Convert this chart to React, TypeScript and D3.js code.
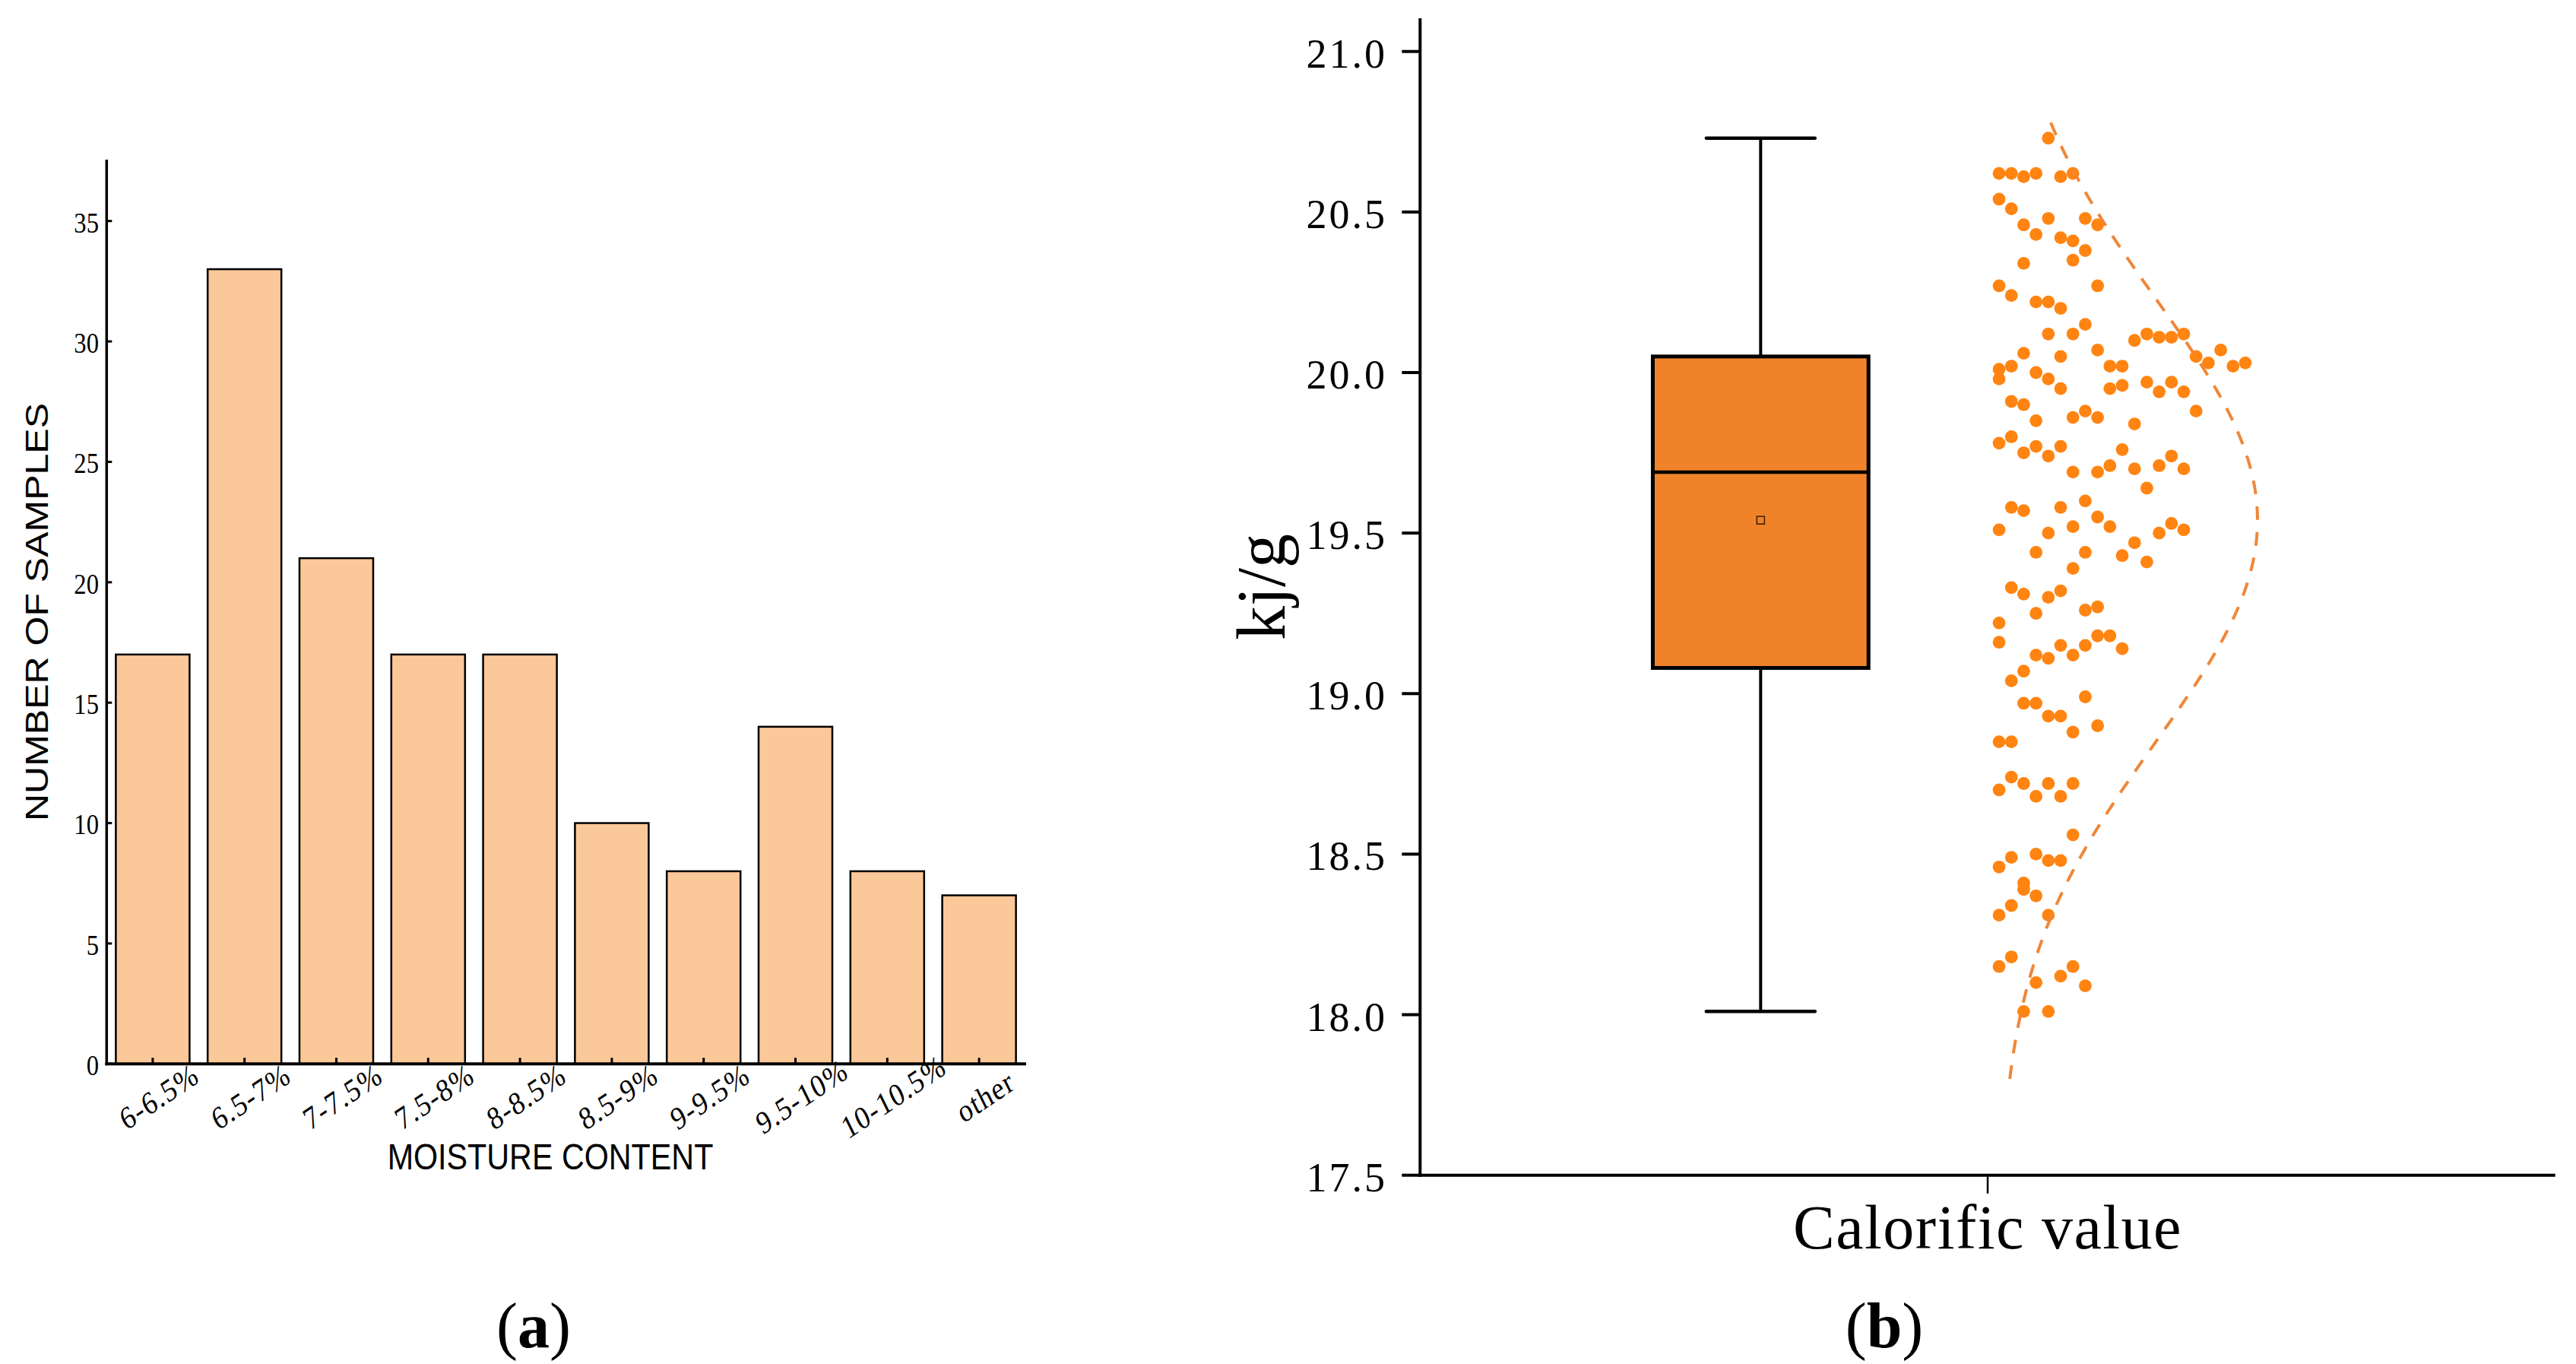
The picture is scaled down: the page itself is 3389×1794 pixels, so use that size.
import * as d3 from "d3";

// (a) moisture content histogram
const categories = ["6-6.5%", "6.5-7%", "7-7.5%", "7.5-8%", "8-8.5%", "8.5-9%", "9-9.5%", "9.5-10%", "10-10.5%", "other"];
const sampleCounts = [17, 33, 21, 17, 17, 10, 8, 14, 8, 7];
const countTicks = [0, 5, 10, 15, 20, 25, 30, 35];

// (b) calorific value: box summary [min, q1, median, q3, max], mean, normal curve
const calorificTicks = [17.5, 18, 18.5, 19, 19.5, 20, 20.5, 21];
const boxSummary = [18.01, 19.08, 19.69, 20.05, 20.73];
const meanValue = 19.54;
const curveRange = [17.8, 20.8];
const curveSd = 0.69;

// sample values, one list per dot column (left to right)
const dotColumns: number[][] = [
  [20.62, 20.54, 20.27, 20.01, 19.98, 19.78, 19.51, 19.22, 19.16, 18.85, 18.7, 18.46, 18.31, 18.15],
  [20.62, 20.51, 20.24, 20.02, 19.91, 19.8, 19.58, 19.33, 19.04, 18.85, 18.74, 18.49, 18.34, 18.18],
  [20.61, 20.46, 20.34, 20.06, 19.9, 19.75, 19.57, 19.31, 19.07, 18.97, 18.72, 18.41, 18.39, 18.01],
  [20.62, 20.43, 20.22, 20.0, 19.85, 19.77, 19.44, 19.25, 19.12, 18.97, 18.68, 18.5, 18.37, 18.1],
  [20.73, 20.48, 20.22, 20.12, 19.98, 19.74, 19.5, 19.3, 19.11, 18.93, 18.72, 18.48, 18.31, 18.01],
  [20.61, 20.42, 20.2, 20.05, 19.95, 19.77, 19.58, 19.32, 19.15, 18.93, 18.68, 18.48, 18.12],
  [20.62, 20.41, 20.35, 20.12, 19.86, 19.69, 19.52, 19.39, 19.12, 18.88, 18.72, 18.56, 18.15],
  [20.48, 20.38, 20.15, 19.88, 19.6, 19.44, 19.26, 19.15, 18.99, 18.09],
  [20.46, 20.27, 20.07, 19.86, 19.69, 19.55, 19.27, 19.18, 18.9],
  [20.02, 19.95, 19.71, 19.52, 19.18],
  [20.02, 19.96, 19.76, 19.43, 19.14],
  [20.1, 19.84, 19.7, 19.47],
  [20.12, 19.97, 19.64, 19.41],
  [20.11, 19.94, 19.71, 19.5],
  [20.11, 19.97, 19.74, 19.53],
  [20.12, 19.94, 19.7, 19.51],
  [20.05, 19.88],
  [20.03],
  [20.07],
  [20.02],
  [20.03],
];

const W = 3389;
const H = 1794;
const SERIF = "'Liberation Serif', 'Times New Roman', serif";
const SANS = "'Liberation Sans', Arial, sans-serif";
const SQUEEZE = 0.86; // the left panel is horizontally squeezed in the source

function MoisturePanel() {
  const x = d3
    .scaleBand()
    .domain(categories)
    .range([140.3, 1348.7])
    .paddingInner(0.197)
    .paddingOuter(0.1);
  const y = d3.scaleLinear().domain([0, 35]).range([1399.3, 290.7]);
  const x0 = 140.3;
  const y0 = y(0);

  return (
    <g>
      {/* bars */}
      {categories.map((c, i) => (
        <rect
          key={c}
          x={x(c)}
          y={y(sampleCounts[i])}
          width={x.bandwidth()}
          height={y0 - y(sampleCounts[i])}
          fill="#FBC899"
          stroke="#000"
          strokeWidth={2.5}
        />
      ))}

      {/* y axis */}
      <line x1={x0} x2={x0} y1={210} y2={y0 + 2} stroke="#000" strokeWidth={3.5} />
      {countTicks.map((t) => (
        <g key={t}>
          <line x1={x0} x2={x0 + 7} y1={y(t)} y2={y(t)} stroke="#000" strokeWidth={3} />
          <g transform={`translate(130,${y(t) + 2}) scale(${SQUEEZE},1)`}>
            <text
              textAnchor="end"
              dominantBaseline="central"
              fontFamily={SERIF}
              fontSize={38}
              fill="#000"
            >
              {t}
            </text>
          </g>
        </g>
      ))}

      {/* x axis */}
      <line x1={x0 - 2} x2={1350} y1={y0} y2={y0} stroke="#000" strokeWidth={4} />
      {categories.map((c) => {
        const cx = (x(c) ?? 0) + x.bandwidth() / 2;
        return (
          <g key={c}>
            <line x1={cx} x2={cx} y1={y0} y2={y0 - 8} stroke="#000" strokeWidth={3} />
            <g transform={`translate(${cx + 8},1442) scale(${SQUEEZE},1) rotate(-30)`}>
              <text
                textAnchor="middle"
                dominantBaseline="central"
                fontFamily={SERIF}
                fontSize={42}
                letterSpacing={1.5}
                fill="#000"
              >
                {c}
              </text>
            </g>
          </g>
        );
      })}

      {/* axis titles */}
      <g transform={`translate(724,1538) scale(${SQUEEZE},1)`}>
        <text textAnchor="middle" fontFamily={SANS} fontSize={48} fill="#000">
          MOISTURE CONTENT
        </text>
      </g>
      <g transform={`translate(63,805) scale(${SQUEEZE},1)`}>
        <text transform="rotate(-90)" textAnchor="middle" fontFamily={SANS} fontSize={50} fill="#000">
          NUMBER OF SAMPLES
        </text>
      </g>

      <text x={702} y={1772} textAnchor="middle" fontFamily={SERIF} fontSize={84} fill="#000">
        (<tspan fontWeight="bold">a</tspan>)
      </text>
    </g>
  );
}

function CalorificPanel() {
  const x = d3.scaleLinear().domain([0, 2]).range([1868.3, 3361.7]);
  const y = d3.scaleLinear().domain([17.5, 21]).range([1545.7, 67.7]);
  const x0 = x(0);
  const y0 = y(17.5);

  const [lo, q1, med, q3, hi] = boxSummary;
  const boxLeft = x(0.6 - 0.19);
  const boxRight = x(0.6 + 0.19);
  const boxMid = x(0.6);
  const capHalf = x(0.0957) - x(0);

  const dotStart = x(1) + 15;
  const dotStep = 16.2;
  const peakWidth = 340;

  const curve = d3
    .line<number>()
    .x((v) => dotStart + peakWidth * Math.exp(-0.5 * ((v - meanValue) / curveSd) ** 2))
    .y((v) => y(v));
  const curveValues = d3.range(curveRange[0], curveRange[1] + 1e-9, 0.01);

  return (
    <g>
      {/* whiskers */}
      <line x1={boxMid} x2={boxMid} y1={y(hi)} y2={y(lo)} stroke="#000" strokeWidth={4} />
      <line x1={boxMid - capHalf} x2={boxMid + capHalf} y1={y(hi)} y2={y(hi)} stroke="#000" strokeWidth={4.5} strokeLinecap="round" />
      <line x1={boxMid - capHalf} x2={boxMid + capHalf} y1={y(lo)} y2={y(lo)} stroke="#000" strokeWidth={4.5} strokeLinecap="round" />

      {/* box */}
      <rect
        x={boxLeft}
        y={y(q3)}
        width={boxRight - boxLeft}
        height={y(q1) - y(q3)}
        fill="#F0832A"
        stroke="#000"
        strokeWidth={5}
      />
      <line x1={boxLeft} x2={boxRight} y1={y(med)} y2={y(med)} stroke="#000" strokeWidth={4.5} />
      <rect
        x={boxMid - 5}
        y={y(meanValue) - 5}
        width={10}
        height={10}
        fill="#F0832A"
        stroke="#4a2000"
        strokeWidth={1.6}
      />

      {/* dots */}
      {dotColumns.map((col, ci) =>
        col.map((v, j) => (
          <circle key={`${ci}-${j}`} cx={dotStart + ci * dotStep} cy={y(v)} r={8.4} fill="#FF8411" />
        ))
      )}

      {/* normal curve */}
      <path
        d={curve(curveValues) ?? ""}
        fill="none"
        stroke="#EE873A"
        strokeWidth={4}
        strokeDasharray="18 16"
      />

      {/* axes */}
      <line x1={x0} x2={x0} y1={24} y2={y0 + 2} stroke="#000" strokeWidth={4} />
      <line x1={x0 - 2} x2={x(2)} y1={y0} y2={y0} stroke="#000" strokeWidth={4} />
      {calorificTicks.map((t) => (
        <g key={t}>
          <line x1={x0 - 24} x2={x0} y1={y(t)} y2={y(t)} stroke="#000" strokeWidth={4} />
          <text
            x={1825}
            y={y(t) + 3}
            textAnchor="end"
            dominantBaseline="central"
            fontFamily={SERIF}
            fontSize={54}
            letterSpacing={3}
            fill="#000"
          >
            {d3.format(".1f")(t)}
          </text>
        </g>
      ))}
      <line x1={x(1)} x2={x(1)} y1={y0} y2={y0 + 24} stroke="#000" strokeWidth={2.5} />

      <text x={x(1)} y={1642} textAnchor="middle" fontFamily={SERIF} fontSize={82} letterSpacing={1.5} fill="#000">
        Calorific value
      </text>
      <text
        transform="translate(1690,772) rotate(-90)"
        textAnchor="middle"
        fontFamily={SERIF}
        fontSize={90}
        fill="#000"
      >
        kj/g
      </text>

      <text x={2479} y={1772} textAnchor="middle" fontFamily={SERIF} fontSize={84} fill="#000">
        (<tspan fontWeight="bold">b</tspan>)
      </text>
    </g>
  );
}

export default function App() {
  return (
    <svg
      width={W}
      height={H}
      viewBox={`0 0 ${W} ${H}`}
      style={{ position: "absolute", left: 0, top: 0, background: "#fff" }}
    >
      <rect width={W} height={H} fill="#fff" />
      <MoisturePanel />
      <CalorificPanel />
    </svg>
  );
}
